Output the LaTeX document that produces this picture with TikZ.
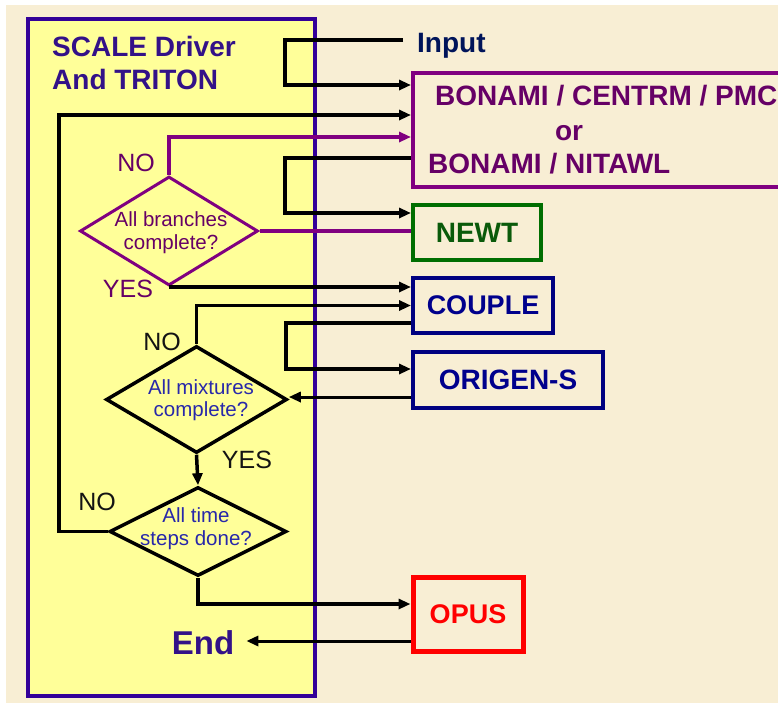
\documentclass[tikz,border=0pt]{standalone}
\usepackage{fontspec}
\setmainfont{Liberation Sans}
\usetikzlibrary{shapes.geometric,arrows.meta}
\definecolor{pagebg}{RGB}{248,238,212}
\definecolor{yellowf}{RGB}{255,255,153}
\definecolor{indigo}{RGB}{51,0,153}
\definecolor{titlec}{RGB}{51,17,136}
\definecolor{inputc}{RGB}{0,20,90}
\definecolor{purpb}{RGB}{128,0,128}
\definecolor{purpt}{RGB}{102,0,102}
\definecolor{greenb}{RGB}{0,110,0}
\definecolor{greent}{RGB}{10,90,10}
\definecolor{navyb}{RGB}{0,0,128}
\definecolor{navyt}{RGB}{0,0,140}
\definecolor{bluet}{RGB}{40,40,170}
\definecolor{redc}{RGB}{255,0,0}
\definecolor{lblc}{RGB}{20,20,20}
\begin{document}
\begin{tikzpicture}[x=1pt,y=-1pt,
  bigtxt/.style={font=\fontsize{28}{32}\selectfont\bfseries, inner sep=0pt},
  modbox/.style={draw, line width=4pt, inner sep=0pt, font=\fontsize{28}{32}\selectfont\bfseries},
  decision/.style={diamond, draw, line width=3.5pt, inner sep=0pt},
  dtext/.style={align=center, inner sep=0pt, font=\fontsize{20.5}{23}\selectfont},
  lbl/.style={inner sep=0pt, font=\fontsize{25}{28}\selectfont},
  heavy/.style={line width=4.5pt},
  wire/.style={line width=3.5pt},
  thinwire/.style={line width=3pt},
  arr/.style={-{Triangle[length=12pt,width=10pt]}}
]
\useasboundingbox (0,0) rectangle (778,705);
\clip (0,0) rectangle (778,705);
\fill[white] (0,0) rectangle (778,705);
\fill[pagebg] (6,5) rectangle (778,703);

% driver box
\node[draw=indigo, fill=yellowf, line width=4.5pt, minimum width=287pt, minimum height=677pt, inner sep=0pt] (driver) at (171.5,357.5) {};
\node[bigtxt, text=titlec, anchor=base west] (title1) at (52,56) {SCALE Driver};
\node[bigtxt, text=titlec, anchor=base west] (title2) at (52,89) {And TRITON};

% input
\node[bigtxt, text=inputc, anchor=base west] (input) at (417,52) {Input};
\coordinate (inp) at (403,40);

% module boxes
\node[modbox, draw=purpb, minimum width=387pt, minimum height=114pt] (bonami) at (606.5,130) {};
\node[bigtxt, text=purpt, anchor=base west] (bon1) at (435,105) {BONAMI / CENTRM / PMC};
\node[bigtxt, text=purpt, anchor=base] (bonor) at (569,140) {or};
\node[bigtxt, text=purpt, anchor=base west] (bon2) at (428,173) {BONAMI / NITAWL};

\node[modbox, draw=greenb, text=greent, minimum width=128pt, minimum height=55pt] (newt) at (477,232.5) {NEWT};
\node[modbox, draw=navyb, text=navyt, minimum width=140pt, minimum height=55pt, font=\fontsize{27}{32}\selectfont\bfseries] (couple) at (483,305.5) {COUPLE};
\node[modbox, draw=navyb, text=navyt, minimum width=190pt, minimum height=56pt] (origen) at (508,380) {ORIGEN-S};
\node[modbox, draw=redc, text=redc, line width=5pt, minimum width=110pt, minimum height=74pt, font=\fontsize{27}{32}\selectfont\bfseries] (opus) at (468,614) {OPUS};

% decisions
\node[decision, draw=purpb, line width=3pt, minimum width=178pt, minimum height=109pt] (branches) at (169,231) {};
\node[dtext, text=purpt] (branchesT) at (171,233) {All branches\\complete?};
\node[decision, draw=black, minimum width=181pt, minimum height=107pt] (mixtures) at (196.5,399.5) {};
\node[dtext, text=bluet, font=\fontsize{20.5}{22}\selectfont] (mixturesT) at (201,400) {All mixtures\\complete?};
\node[decision, draw=black, minimum width=177pt, minimum height=89pt] (time) at (198,531.5) {};
\node[dtext, text=bluet] (timeT) at (196,529) {All time\\steps done?};

% labels
\node[lbl, text=purpt] (no1) at (136,163) {NO};
\node[lbl, text=purpt] (yes1) at (128,289) {YES};
\node[lbl, text=lblc] (no2) at (162,342) {NO};
\node[lbl, text=lblc] (yes2) at (247,460) {YES};
\node[lbl, text=lblc] (no3) at (97,502) {NO};

\node[font=\fontsize{33}{36}\selectfont\bfseries, text=titlec, inner xsep=12pt, inner ysep=0pt, anchor=base] (endn) at (203,654) {End};

% bus coordinates
\coordinate (busA) at (285,0);
\coordinate (busB) at (286,0);
\coordinate (busL) at (59,0);
\coordinate (bonIn1) at ([yshift=45pt]bonami.west);
\coordinate (bonIn2) at ([yshift=15pt]bonami.west);
\coordinate (bonIn3) at ([yshift=-7pt]bonami.west);
\coordinate (bonOut) at ([yshift=-28pt]bonami.west);
\coordinate (newtIn) at ([yshift=19.5pt]newt.west);
\coordinate (coupleOut) at ([yshift=-17.5pt]couple.west);
\coordinate (origenIn) at ([yshift=11pt]origen.west);
\coordinate (origenOut) at ([yshift=-17pt]origen.west);
\coordinate (opusIn) at ([yshift=10pt]opus.west);
\coordinate (opusOut) at ([yshift=-27pt]opus.west);

% connectors
\draw[heavy,arr] (inp) -- (inp -| busA) |- (bonIn1);
\draw[wire,arr] (time.west) -- (time.west -| busL) |- (bonIn2);
\draw[wire,draw=purpb,arr] (branches.north) |- (bonIn3);
\draw[heavy,arr] (bonOut) -- (bonOut -| busA) |- (newtIn);
\draw[wire,draw=purpb] (branches.east) -- (branches.east -| newt.west);
\draw[wire,arr] (branches.south) -- (branches.south -| couple.west);
\draw[wire,arr] (mixtures.north) |- (couple.west);
\draw[heavy,arr] (coupleOut) -- (coupleOut -| busB) |- (origenIn);
\draw[thinwire,arr] (origenOut) -- (origenOut -| mixtures.east);
\draw[wire,arr] (mixtures.south) -- (time.north);
\draw[heavy,arr] (time.south) |- (opusIn);
\draw[thinwire,arr] (opusOut) -- (opusOut -| endn.east);
\end{tikzpicture}
\end{document}
